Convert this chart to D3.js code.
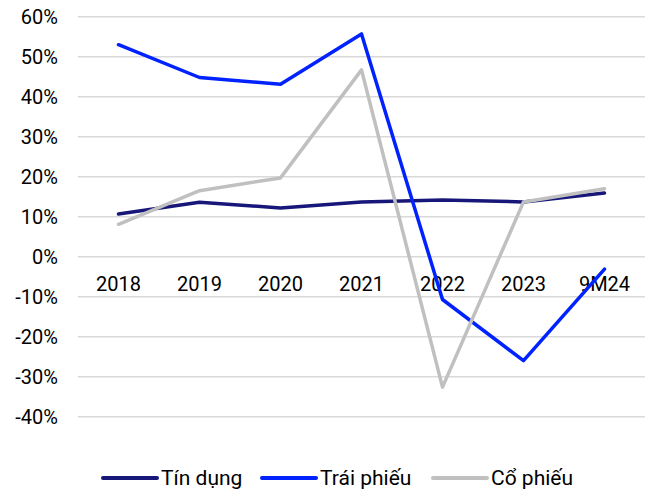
<!DOCTYPE html>
<html>
<head>
<meta charset="utf-8">
<script src="https://cdn.jsdelivr.net/npm/d3@7"></script>
<style>
  html, body { margin: 0; padding: 0; background: #fff; }
  svg { display: block; font-family: Roboto, "Noto Sans", sans-serif; }
</style>
</head>
<body>
<svg id="chart" width="654" height="495"></svg>
<script>
const categories = ["2018", "2019", "2020", "2021", "2022", "2023", "9M24"];
const tinDung = [10.7, 13.6, 12.2, 13.7, 14.2, 13.7, 15.9];
const traiPhieu = [53.0, 44.8, 43.1, 55.7, -10.7, -26.0, -3.1];
const coPhieu = [8.1, 16.5, 19.7, 46.7, -32.6, 13.7, 17.0];
const yTicks = [60, 50, 40, 30, 20, 10, 0, -10, -20, -30, -40];
const seriesNames = ["Tín dụng", "Trái phiếu", "Cổ phiếu"];
const seriesColors = ["#17177a", "#0022ff", "#c0c0c0"];

const series = [tinDung, traiPhieu, coPhieu].map((vals, i) => ({
  name: seriesNames[i], color: seriesColors[i], values: vals
}));

const svg = d3.select("#chart");
const left = 78, right = 645;
const x = d3.scaleBand().domain(categories).range([left, right]).padding(0);
const y = d3.scaleLinear().domain([-40, 60]).range([416.7, 16.7]);

// gridlines
svg.append("g").selectAll("line").data(yTicks).join("line")
  .attr("x1", left).attr("x2", right)
  .attr("y1", d => y(d)).attr("y2", d => y(d))
  .attr("stroke", "#d9d9d9").attr("stroke-width", 1.5);

// y axis labels
const yAxis = d3.axisLeft(y).tickValues(yTicks).tickFormat(d => d + "%").tickSize(0).tickPadding(0);
const yg = svg.append("g").attr("transform", `translate(58,0)`).call(yAxis);
yg.select(".domain").remove();
yg.selectAll("text").attr("font-size", 20).attr("fill", "#000")
  .attr("font-family", "Roboto, sans-serif").attr("dy", "0.35em");

// x axis labels (at zero line)
const xAxis = d3.axisBottom(x).tickSize(0).tickPadding(0);
const xg = svg.append("g").attr("transform", `translate(0,${y(0)})`).call(xAxis);
xg.select(".domain").remove();
xg.selectAll("text").attr("font-size", 20).attr("fill", "#000")
  .attr("font-family", "Roboto, sans-serif").attr("dy", null).attr("y", 34);

// lines
const line = d3.line()
  .x((d, i) => x(categories[i]) + x.bandwidth() / 2)
  .y(d => y(d));

svg.append("g").selectAll("path").data(series).join("path")
  .attr("d", d => line(d.values))
  .attr("fill", "none")
  .attr("stroke", d => d.color)
  .attr("stroke-width", 3.5)
  .attr("stroke-linejoin", "round")
  .attr("stroke-linecap", "round");

// legend
const legendX = [103, 262, 433];
const lg = svg.append("g");
series.forEach((s, i) => {
  const g = lg.append("g").attr("transform", `translate(${legendX[i]},478)`);
  g.append("line").attr("x1", 0).attr("x2", 54).attr("y1", 0).attr("y2", 0)
    .attr("stroke", s.color).attr("stroke-width", 4).attr("stroke-linecap", "round");
  g.append("text").attr("x", 58).attr("y", 0).attr("dy", "0.35em")
    .attr("font-size", 21).attr("fill", "#000").text(s.name);
});
</script>
</body>
</html>
